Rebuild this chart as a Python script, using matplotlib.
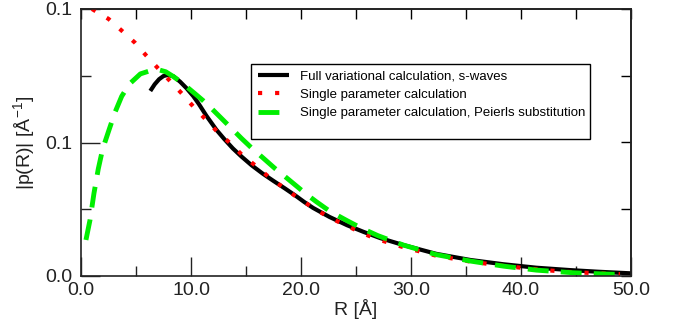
import matplotlib
matplotlib.use("Agg")
import matplotlib.pyplot as plt
from matplotlib.patches import Rectangle
from matplotlib.ticker import MultipleLocator, FormatStrFormatter

plt.rcParams['font.family'] = ['Liberation Sans', 'DejaVu Sans']
plt.rcParams['mathtext.fontset'] = 'custom'
plt.rcParams['mathtext.rm'] = 'Liberation Sans'
plt.rcParams['mathtext.it'] = 'Liberation Sans:italic'

# full variational calculation, s-waves
r_full = [6.3, 6.7, 7.1, 7.5, 7.9, 8.4, 9.0, 9.6, 10.2, 10.7, 11.4, 12.3,
          13.0, 13.8, 14.6, 15.5, 16.5, 17.5, 18.5, 19.5, 20.3, 21.1, 22.6,
          24.2, 25.7, 27.2, 29.3, 32.3, 35.4, 38.4, 41.4, 44.5, 47.0, 50.0]
p_full = [0.0693, 0.0718, 0.0737, 0.0749, 0.0753, 0.0748, 0.0728, 0.0703,
          0.0674, 0.0645, 0.0600, 0.0548, 0.0514, 0.0478, 0.0447, 0.0415,
          0.0384, 0.0356, 0.0329, 0.0301, 0.0277, 0.0255, 0.0221, 0.0190,
          0.0165, 0.0142, 0.0116, 0.0083, 0.0060, 0.0044, 0.0031, 0.0022,
          0.0016, 0.0010]

# single parameter calculation
r_single = [1.0, 2.5, 3.7, 4.9, 5.9, 7.0, 8.1, 9.2, 10.2, 11.3, 12.4, 13.6,
            14.7, 16.0, 17.2, 18.5, 19.8, 21.1, 22.4, 23.9, 25.3, 26.7, 29.3,
            32.3, 35.4, 38.4, 41.4, 44.0, 47.0, 49.0]
p_single = [0.1000, 0.0963, 0.0919, 0.0874, 0.0827, 0.0778, 0.0730, 0.0682,
            0.0635, 0.0588, 0.0540, 0.0496, 0.0451, 0.0409, 0.0366, 0.0329,
            0.0290, 0.0256, 0.0223, 0.0193, 0.0166, 0.0141, 0.0108, 0.0076,
            0.0054, 0.0038, 0.0025, 0.0016, 0.0010, 0.0007]

# single parameter calculation, Peierls substitution
r_peierls = [0.45, 0.82, 1.18, 1.57, 1.97, 2.57, 3.09, 3.7, 4.4, 5.4, 6.3,
             7.0, 7.7, 8.4, 9.0, 9.6, 10.3, 11.1, 11.9, 12.9, 13.8, 14.6,
             15.5, 16.5, 17.6, 18.5, 19.5, 20.5, 21.4, 22.6, 24.2, 25.5, 27.0,
             29.3, 32.3, 35.4, 38.4, 41.4, 44.8, 47.9, 49.0]
p_peierls = [0.0135, 0.0210, 0.0310, 0.0401, 0.0476, 0.0550, 0.0613, 0.0673,
             0.0719, 0.0757, 0.0769, 0.0773, 0.0765, 0.0747, 0.0729, 0.0709,
             0.0685, 0.0657, 0.0626, 0.0585, 0.0548, 0.0515, 0.0480, 0.0444,
             0.0404, 0.0374, 0.0340, 0.0306, 0.0278, 0.0243, 0.0207, 0.0179,
             0.0151, 0.0116, 0.0080, 0.0056, 0.0037, 0.0022, 0.0012, 0.0007,
             0.0006]

labels = ["Full variational calculation, s-waves",
          "Single parameter calculation",
          "Single parameter calculation, Peierls substitution"]

fig = plt.figure(figsize=(6.79, 3.32), dpi=100)
ax = fig.add_axes([81 / 679, 56 / 332, 550 / 679, 267 / 332])

ax.plot(r_full, p_full, color='black', lw=3, solid_capstyle='butt', label=labels[0])
ax.plot(r_single, p_single, color='#ff0000', lw=3, linestyle=(0, (1, 3.1)),
        label=labels[1])
ax.plot(r_peierls, p_peierls, color='#00ee00', lw=3.5, linestyle=(0, (4.3, 2.5)),
        label=labels[2])

ax.set_xlim(0, 50)
ax.set_ylim(0, 0.1)
ax.xaxis.set_major_locator(MultipleLocator(10))
ax.xaxis.set_minor_locator(MultipleLocator(5))
ax.yaxis.set_major_locator(MultipleLocator(0.05))
ax.yaxis.set_minor_locator(MultipleLocator(0.025))
ax.xaxis.set_major_formatter(FormatStrFormatter('%.1f'))
ax.yaxis.set_major_formatter(FormatStrFormatter('%.1f'))

ax.tick_params(which='both', direction='in', labelsize=14, colors='#222222', width=1)
ax.tick_params(which='major', length=14)
ax.tick_params(which='minor', length=7)
ax.tick_params(axis='x', pad=4)
ax.tick_params(axis='y', pad=6)

# short ticks on the top and right frame
top = ax.secondary_xaxis('top')
top.xaxis.set_major_locator(MultipleLocator(5))
top.tick_params(direction='in', length=7, width=1, labeltop=False)
right = ax.secondary_yaxis('right')
right.yaxis.set_major_locator(MultipleLocator(0.025))
right.tick_params(direction='in', length=7, width=1, labelright=False)

for a in (ax, top, right):
    for s in a.spines.values():
        s.set_linewidth(1.2)
        s.set_color('#222222')

ax.set_xlabel("R [Å]", fontsize=14, labelpad=0, color='#222222')
ax.set_ylabel("|p(R)| [Å$^{-1}$]", fontsize=14, labelpad=6, color='#222222')

# legend box (grace style: extra room below the last entry)
ax.add_patch(Rectangle((0.309, 0.513), 0.616, 0.281, transform=ax.transAxes,
                       facecolor='white', edgecolor='black', lw=1, zorder=4))
leg = ax.legend(loc='upper left', bbox_to_anchor=(0.309, 0.794), fontsize=9.5,
                frameon=False, handlelength=2.4, handletextpad=0.8,
                labelspacing=0.45, borderpad=0.5, borderaxespad=0)
leg.set_zorder(5)

fig.savefig("out.png", dpi=100)
